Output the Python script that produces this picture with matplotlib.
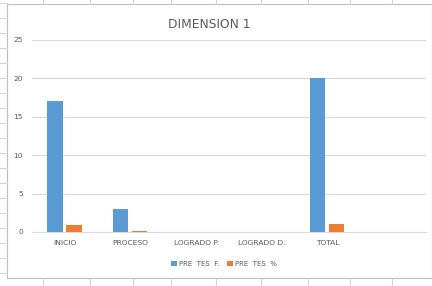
import numpy as np
import matplotlib
matplotlib.use("Agg")
import matplotlib.pyplot as plt
from matplotlib.lines import Line2D
from matplotlib.patches import Rectangle

# Data
categories = ["INICIO", "PROCESO", "LOGRADO P.", "LOGRADO D.", "TOTAL", ""]
pre_tes_f = [17, 3, 0, 0, 20, np.nan]
pre_tes_pct = [0.85, 0.15, 0, 0, 1.0, np.nan]
series_names = ["PRE  TES  F.", "PRE  TES  %"]
yticks = [0, 5, 10, 15, 20, 25]

W, H = 432, 286
fig = plt.figure(figsize=(W / 100, H / 100), dpi=100)
fig.patch.set_facecolor("white")

def px(x, y):
    # pixel coords (top-left origin) -> figure fraction
    return x / W, 1 - y / H

grid_col = "#d4d4d4"

# spreadsheet cell lines around the chart
for y in range(3, 286, 15):
    fig.add_artist(Line2D([0, 7 / W], [1 - y / H] * 2, color=grid_col, lw=0.8))
for x in [43, 90, 133, 171, 216, 261, 308, 350, 392]:
    fig.add_artist(Line2D([x / W] * 2, [1, 1 - 4 / H], color=grid_col, lw=0.8))
    fig.add_artist(Line2D([x / W] * 2, [1 - 278 / H, 0], color=grid_col, lw=0.8))

# chart area
fig.add_artist(Rectangle(px(7, 278), (W - 7) / W, 274 / H, facecolor="white",
                         edgecolor="#bfbfbf", lw=0.8, zorder=0))

left, right = px(32, 0)[0], px(426, 0)[0]
bottom, top = px(0, 232)[1], px(0, 40)[1]
ax = fig.add_axes([left, bottom, right - left, top - bottom])
ax.set_facecolor("none")

x = np.arange(len(categories))
w = 0.23
b1 = ax.bar(x - 0.15, pre_tes_f, w, color="#5B9BD5", label=series_names[0], zorder=3)
b2 = ax.bar(x + 0.14, pre_tes_pct, w, color="#ED7D31", label=series_names[1], zorder=3)

ax.set_xlim(-0.5, len(categories) - 0.5)
ax.set_ylim(0, 25)
ax.set_yticks(yticks)
ax.yaxis.grid(True, color="#d9d9d9", lw=0.8, zorder=0)
ax.set_xticks(x)
ax.set_xticklabels(categories)
ax.tick_params(length=0, labelsize=5.4, colors="#595959")
ax.tick_params(axis="y", pad=6.5)
ax.tick_params(axis="x", pad=6)
for s in ["top", "right", "left"]:
    ax.spines[s].set_visible(False)
ax.spines["bottom"].set_color("#d9d9d9")
ax.spines["bottom"].set_linewidth(0.8)

fig.text(*px(209, 25), "DIMENSION 1", ha="center", va="center",
         fontsize=8.8, color="#595959")

fig.legend(handles=[b1, b2], loc="center", bbox_to_anchor=px(224, 264), ncol=2,
           frameon=False, fontsize=5, labelcolor="#595959", handlelength=0.8,
           handleheight=0.8, handletextpad=0.3, columnspacing=1.2)

fig.savefig("out.png", dpi=100)
